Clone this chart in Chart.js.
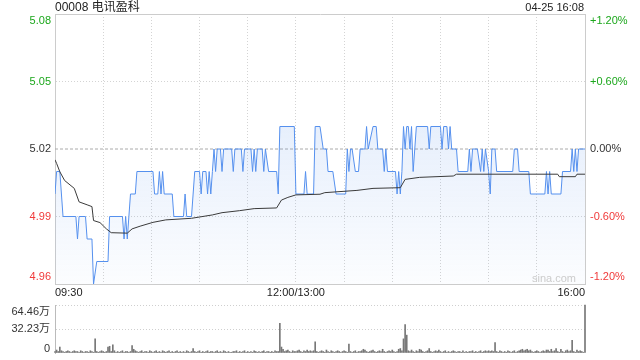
<!DOCTYPE html>
<html>
<head>
<meta charset="utf-8">
<script src="https://cdn.jsdelivr.net/npm/chart.js@4.4.1/dist/chart.umd.min.js"></script>
<style>
    html, body { margin: 0; padding: 0; background: #fff; }
    body { width: 640px; height: 360px; position: relative; overflow: hidden; font-family: Arial, "Liberation Sans", "Noto Sans CJK SC", sans-serif; }
    #title { position: absolute; left: 55px; top: 0; font-size: 12px; line-height: 15px; color: #222; }
    #stamp { position: absolute; right: 56px; top: 0; font-size: 11px; line-height: 15px; color: #222; }
    #mark { position: absolute; left: 532px; top: 271px; font-size: 11px; line-height: 14px; color: #ccc; }
    #priceCanvas { position: absolute; left: 0; top: 0; }
    #volumeCanvas { position: absolute; left: 0; top: 300px; }
</style>
</head>
<body>
<canvas id="priceCanvas" width="640" height="300"></canvas>
<canvas id="volumeCanvas" width="640" height="60"></canvas>
<div id="title">00008 电讯盈科</div>
<div id="stamp">04-25 16:08</div>
<div id="mark">sina.com</div>
<script>
// prix de clôture de la veille
const prevClose = 5.02;

// minutes depuis 09:30 (0 = 09:30, 150 = 12:00/13:00, 330 = 16:00)
const priceMinutes = [0, 1, 3, 4, 5, 13, 14, 15, 19, 20, 23, 24, 26, 33, 34, 42, 43, 44, 45, 46,
    47, 50, 51, 61, 62, 64, 65, 66, 67, 68, 73, 74, 80, 81, 82, 85, 86, 87, 90, 91,
    92, 94, 95, 96, 97, 98, 99, 100, 101, 103, 104, 105, 110, 111, 112, 116, 117, 118, 122, 123,
    124, 125, 126, 129, 130, 131, 133, 138, 139, 140, 149, 150, 155, 156, 157, 161, 162, 165, 167, 169,
    170, 173, 175, 181, 182, 183, 184, 185, 187, 189, 190, 193, 194, 195, 198, 200, 201, 204, 205, 206,
    207, 212, 213, 214, 215, 216, 217, 218, 219, 220, 221, 222, 223, 225, 232, 233, 234, 240, 241, 242,
    244, 245, 246, 247, 250, 251, 257, 258, 259, 260, 263, 265, 266, 267, 268, 270, 271, 272, 274, 275,
    285, 286, 288, 289, 295, 296, 305, 306, 307, 308, 309, 315, 316, 321, 322, 323, 324, 325, 326, 330];
const priceValues = [5.00, 5.01, 5.01, 5.00, 4.99, 4.99, 4.98, 4.99, 4.99, 4.98, 4.98, 4.96, 4.97, 4.97, 4.99, 4.99, 4.98, 4.99, 4.98, 4.99,
    5.00, 5.00, 5.01, 5.01, 5.00, 5.00, 5.01, 5.00, 5.01, 5.00, 5.00, 4.99, 4.99, 5.00, 4.99, 4.99, 5.00, 5.01, 5.01, 5.00,
    5.01, 5.01, 5.00, 5.01, 5.00, 5.01, 5.02, 5.01, 5.02, 5.02, 5.01, 5.02, 5.02, 5.01, 5.02, 5.02, 5.01, 5.02, 5.02, 5.01,
    5.02, 5.01, 5.02, 5.02, 5.01, 5.02, 5.01, 5.01, 5.00, 5.03, 5.03, 5.00, 5.00, 5.01, 5.00, 5.00, 5.03, 5.03, 5.02, 5.02,
    5.01, 5.01, 5.00, 5.00, 5.02, 5.01, 5.02, 5.02, 5.01, 5.01, 5.02, 5.02, 5.03, 5.02, 5.03, 5.03, 5.02, 5.02, 5.01, 5.02,
    5.01, 5.01, 5.00, 5.01, 5.00, 5.01, 5.03, 5.02, 5.03, 5.03, 5.02, 5.03, 5.01, 5.03, 5.03, 5.02, 5.03, 5.03, 5.02, 5.03,
    5.03, 5.02, 5.03, 5.02, 5.02, 5.01, 5.01, 5.02, 5.01, 5.02, 5.02, 5.01, 5.02, 5.01, 5.02, 5.01, 5.00, 5.02, 5.02, 5.01,
    5.01, 5.02, 5.02, 5.01, 5.01, 5.00, 5.00, 5.01, 5.00, 5.01, 5.00, 5.00, 5.01, 5.01, 5.02, 5.01, 5.02, 5.01, 5.02, 5.02];

// prix moyen (ligne noire)
const avgMinutes = [0, 1, 3, 6, 12, 15, 20, 23, 24, 28, 32, 35, 45, 48, 53, 61, 69, 85, 98, 104,
    115, 124, 138, 141, 145, 150, 165, 168, 188, 198, 215, 218, 227, 248, 250, 313, 314, 324, 325, 330];
const avgValues = [5.0152, 5.0136, 5.0099, 5.0060, 5.0025, 4.9965, 4.9952, 4.9944, 4.9882, 4.9873, 4.9845, 4.9828, 4.9826, 4.9845, 4.9857, 4.9874, 4.9885, 4.9892, 4.9907, 4.9917,
    4.9926, 4.9935, 4.9938, 4.9973, 4.9985, 4.9996, 4.9999, 5.0006, 5.0016, 5.0025, 5.0028, 5.0065, 5.0074, 5.0080, 5.0088, 5.0088, 5.0077, 5.0077, 5.0088, 5.0088];

// volume par minute (en 万 actions), de 09:30 à 16:00
const volumes = [
    2, 4, 2, 8, 3, 2, 1, 2, 3, 2,
    1, 2, 3, 2, 2, 1, 3, 2, 1, 2,
    2, 1, 3, 2, 1, 19, 2, 1, 2, 3,
    2, 1, 2, 8, 9, 2, 11, 3, 1, 2,
    1, 2, 3, 1, 2, 2, 1, 2, 10, 5,
    3, 2, 1, 2, 3, 1, 2, 2, 1, 3,
    2, 1, 2, 3, 1, 2, 1, 3, 2, 1,
    2, 3, 1, 2, 1, 2, 3, 1, 2, 1,
    2, 1, 3, 2, 1, 2, 6, 2, 1, 2,
    3, 1, 2, 1, 2, 3, 1, 2, 2, 1,
    2, 3, 1, 2, 1, 3, 2, 1, 2, 1,
    1, 2, 2, 3, 1, 2, 1, 2, 3, 1,
    2, 1, 2, 1, 3, 2, 1, 2, 1, 2,
    3, 1, 2, 2, 1, 2, 1, 3, 2, 2,
    40, 8, 5, 2, 3, 4, 2, 1, 3, 2,
    2, 3, 4, 2, 1, 3, 2, 4, 2, 3,
    2, 3, 15, 2, 1, 2, 3, 2, 1, 4,
    2, 1, 3, 2, 1, 2, 3, 2, 1, 2,
    3, 2, 1, 12, 2, 1, 2, 3, 1, 2,
    2, 3, 5, 4, 2, 1, 2, 3, 4, 2,
    1, 2, 3, 2, 5, 2, 1, 2, 3, 2,
    4, 2, 1, 2, 5, 6, 3, 19, 38, 24,
    3, 2, 4, 2, 1, 3, 2, 5, 4, 2,
    1, 2, 3, 6, 2, 1, 2, 3, 2, 4,
    2, 1, 2, 3, 1, 2, 1, 2, 3, 2,
    1, 2, 2, 1, 3, 1, 2, 1, 2, 2,
    3, 1, 2, 1, 2, 3, 1, 2, 3, 2,
    3, 2, 3, 2, 14, 2, 1, 3, 2, 1,
    2, 1, 3, 2, 1, 2, 3, 1, 2, 3,
    4, 5, 3, 4, 5, 3, 4, 2, 1, 2,
    3, 2, 1, 2, 3, 2, 4, 4, 2, 5,
    2, 3, 6, 2, 1, 5, 2, 1, 3, 4,
    2, 3, 17, 2, 1, 4, 2, 3, 2, 1,
    64.46
];

const priceTicks = [4.96, 4.99, 5.02, 5.05, 5.08];
const volumeTicks = [0, 32.23, 64.46];
const gridMinutes = [0, 30, 60, 90, 120, 150, 180, 210, 240, 270, 300, 330];
const timeTickMinutes = [0, 150, 330];
const timeTickLabels = ['09:30', '12:00/13:00', '16:00'];

const upColor = '#1ca71c';
const downColor = '#f03a3a';
const lineBlue = '#5590ee';

Chart.defaults.font.family = 'Arial, "Liberation Sans", "Noto Sans CJK SC", sans-serif';
Chart.defaults.font.size = 11;
Chart.defaults.color = '#333';

function toPoints(xs, ys) {
    return xs.map((x, i) => ({ x: x, y: ys[i] }));
}

function levelColor(value) {
    if (value > prevClose + 1e-6) return upColor;
    if (value < prevClose - 1e-6) return downColor;
    return '#333';
}

// décale le libellé du haut vers le bas et celui du bas vers le haut
function edgeLabel(text, index, count) {
    if (index === count - 1) return ['', text];
    if (index === 0) return [text, ''];
    return text;
}

function percentText(value) {
    const pct = (value - prevClose) / prevClose * 100;
    const s = Math.abs(pct).toFixed(2) + '%';
    if (pct > 1e-6) return '+' + s;
    if (pct < -1e-6) return '-' + s;
    return s;
}

function priceFill(context) {
    const area = context.chart.chartArea;
    if (!area) return 'rgba(79, 139, 234, 0.1)';
    const g = context.chart.ctx.createLinearGradient(0, area.top, 0, area.bottom);
    g.addColorStop(0, 'rgba(79, 139, 234, 0.22)');
    g.addColorStop(1, 'rgba(79, 139, 234, 0.02)');
    return g;
}

function fixPriceTicks(axis) {
    axis.ticks = priceTicks.map(v => ({ value: v }));
}

function fixSideWidth(axis) {
    axis.width = 55;
    axis.paddingTop = 0;
    axis.paddingBottom = 0;
}

const priceChart = new Chart(document.getElementById('priceCanvas'), {
    type: 'line',
    data: {
        datasets: [{
                label: '均价',
                data: toPoints(avgMinutes, avgValues),
                xAxisID: 'x',
                yAxisID: 'y',
                borderColor: '#3a3a3a',
                borderWidth: 1,
                pointRadius: 0,
                fill: false
            },
            {
                label: '价格',
                data: toPoints(priceMinutes, priceValues),
                xAxisID: 'x',
                yAxisID: 'y',
                borderColor: lineBlue,
                borderWidth: 1,
                pointRadius: 0,
                fill: 'start',
                backgroundColor: priceFill
            },
            {
                label: '昨收',
                data: [{ x: 0, y: prevClose }, { x: 330, y: prevClose }],
                xAxisID: 'x',
                yAxisID: 'y',
                borderColor: '#aaa',
                borderDash: [3, 2],
                borderWidth: 1,
                pointRadius: 0,
                fill: false
            }
        ]
    },
    options: {
        responsive: false,
        animation: false,
        layout: { padding: { top: 14, left: 0, right: 0, bottom: 0 } },
        elements: { line: { tension: 0 } },
        plugins: {
            legend: { display: false },
            tooltip: { enabled: false }
        },
        scales: {
            x: {
                type: 'linear',
                position: 'bottom',
                min: 0,
                max: 330,
                afterBuildTicks: axis => { axis.ticks = gridMinutes.map(v => ({ value: v })); },
                afterFit: axis => { axis.height = 16; axis.paddingLeft = 0; axis.paddingRight = 0; },
                grid: {
                    drawTicks: false,
                    color: ctx => (ctx.tick && ctx.tick.value > 0 && ctx.tick.value < 330) ? '#d4d4d4' : 'rgba(0,0,0,0)'
                },
                border: { color: '#ccc', dash: [1, 2] },
                ticks: {
                    padding: 2,
                    align: 'inner',
                    autoSkip: false,
                    maxRotation: 0,
                    minRotation: 0,
                    color: '#222',
                    callback: function (value) {
                        const i = timeTickMinutes.indexOf(value);
                        return i < 0 ? '' : timeTickLabels[i];
                    }
                }
            },
            xTop: {
                type: 'linear',
                position: 'top',
                min: 0,
                max: 330,
                afterFit: axis => { axis.height = 0; },
                grid: { display: false, drawTicks: false },
                border: { color: '#ccc' },
                ticks: { display: false }
            },
            y: {
                type: 'linear',
                position: 'left',
                min: 4.96,
                max: 5.08,
                afterBuildTicks: fixPriceTicks,
                afterFit: fixSideWidth,
                grid: {
                    drawTicks: false,
                    color: ctx => (ctx.tick && (ctx.index === 1 || ctx.index === 3)) ? '#d4d4d4' : 'rgba(0,0,0,0)'
                },
                border: { color: '#ccc', dash: [1, 2] },
                ticks: {
                    padding: 4,
                    autoSkip: false,
                    color: ctx => levelColor(ctx.tick.value),
                    callback: (value, index, ticks) => edgeLabel(value.toFixed(2), index, ticks.length)
                }
            },
            y2: {
                type: 'linear',
                position: 'right',
                min: 4.96,
                max: 5.08,
                afterBuildTicks: fixPriceTicks,
                afterFit: fixSideWidth,
                grid: { display: false, drawTicks: false },
                border: { color: '#ccc' },
                ticks: {
                    padding: 5,
                    autoSkip: false,
                    color: ctx => levelColor(ctx.tick.value),
                    callback: (value, index, ticks) => edgeLabel(percentText(value), index, ticks.length)
                }
            }
        }
    }
});

const volumeChart = new Chart(document.getElementById('volumeCanvas'), {
    type: 'bar',
    data: {
        datasets: [{
            label: '成交量',
            data: volumes.map((v, i) => ({ x: i, y: v })),
            backgroundColor: '#777',
            barThickness: 1,
            clip: false
        }]
    },
    options: {
        responsive: false,
        animation: false,
        layout: { padding: { top: 5, bottom: 7, left: 0, right: 55 } },
        plugins: {
            legend: { display: false },
            tooltip: { enabled: false }
        },
        scales: {
            x: {
                type: 'linear',
                min: 0,
                max: 330,
                offset: false,
                display: false
            },
            y: {
                type: 'linear',
                position: 'left',
                min: 0,
                max: 64.46,
                afterBuildTicks: axis => { axis.ticks = volumeTicks.map(v => ({ value: v })); },
                afterFit: fixSideWidth,
                grid: {
                    drawTicks: false,
                    color: ctx => (ctx.tick && ctx.tick.value > 0) ? '#cfcfcf' : 'rgba(0,0,0,0)'
                },
                border: { color: '#bbb', dash: [1, 2] },
                ticks: {
                    padding: 5,
                    autoSkip: false,
                    color: '#333',
                    font: ctx => ({ size: 11, lineHeight: ctx.index === 0 ? '9px' : 1.2 }),
                    callback: function (value, index, ticks) {
                        const text = value === 0 ? '0' : value.toFixed(2) + '万';
                        return edgeLabel(text, index, ticks.length);
                    }
                }
            }
        }
    }
});
</script>
</body>
</html>
